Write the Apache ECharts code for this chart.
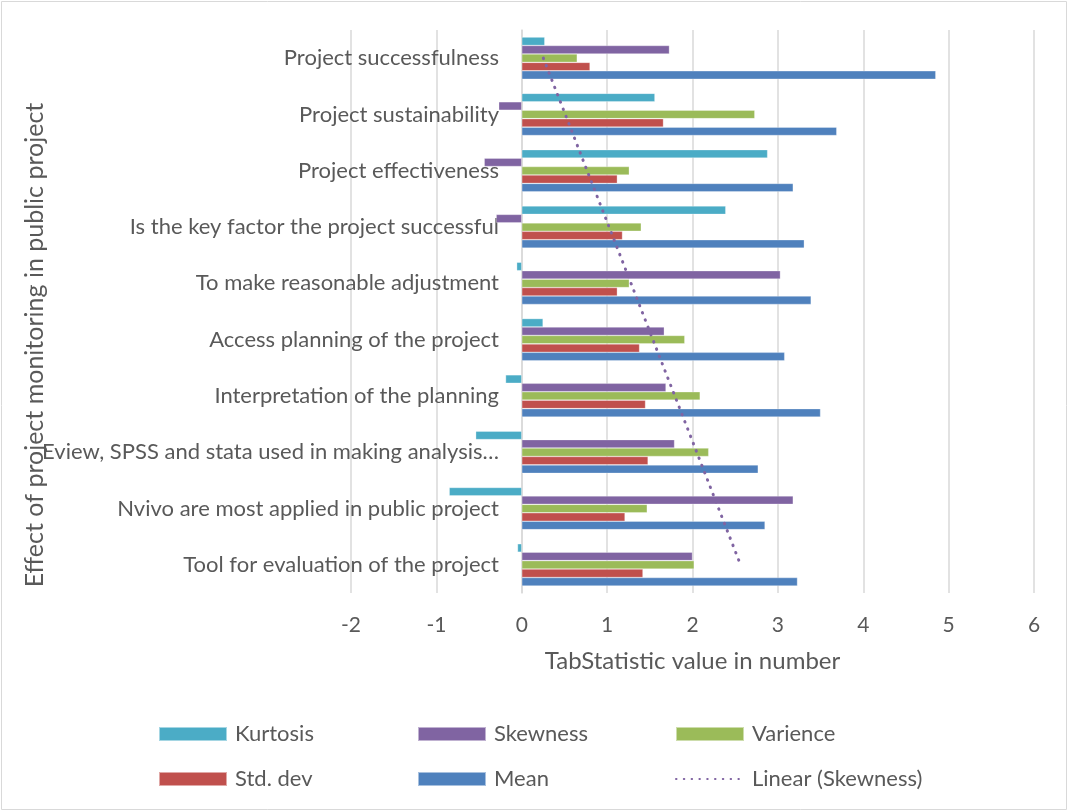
<!DOCTYPE html>
<html>
<head>
<meta charset="utf-8">
<script src="https://cdn.jsdelivr.net/npm/echarts@6/dist/echarts.min.js"></script>
<style>
  html, body { margin: 0; padding: 0; background: #fff; }
  #chart { width: 1069px; height: 812px; }
</style>
</head>
<body>
<div id="chart"></div>
<script>
// categories, top to bottom
const categories = [
  'Project successfulness',
  'Project sustainability',
  'Project effectiveness',
  'Is the key factor the project successful',
  'To make reasonable adjustment',
  'Access planning of the project',
  'Interpretation of the planning',
  'Eview, SPSS and stata used in making analysis…',
  'Nvivo are most applied in public project',
  'Tool for evaluation of the project'
];

const kurtosis = [0.27, 1.56, 2.88, 2.39, -0.06, 0.25, -0.19, -0.54, -0.85, -0.05];
const skewness = [1.73, -0.27, -0.44, -0.30, 3.03, 1.67, 1.69, 1.79, 3.18, 2.00];
const varience = [0.65, 2.73, 1.26, 1.40, 1.26, 1.91, 2.09, 2.19, 1.47, 2.02];
const stdDev   = [0.80, 1.66, 1.12, 1.18, 1.12, 1.38, 1.45, 1.48, 1.21, 1.42];
const mean     = [4.85, 3.69, 3.18, 3.31, 3.39, 3.08, 3.50, 2.77, 2.85, 3.23];

// linear trendline of skewness (least squares over category index)
const n = skewness.length;
const mx = (n - 1) / 2;
const my = skewness.reduce((s, v) => s + v, 0) / n;
let sxy = 0, sxx = 0;
skewness.forEach((v, i) => { sxy += (i - mx) * (v - my); sxx += (i - mx) * (i - mx); });
const slope = sxy / sxx;
const trend = skewness.map((v, i) => +(my + slope * (i - mx)).toFixed(3));

const font = 'Lato';
const textColor = '#595959';

const chart = echarts.init(document.getElementById('chart'));

function barSeries(name, data, color) {
  return {
    name: name,
    type: 'bar',
    data: data,
    barGap: '0%',
    barCategoryGap: '25%',
    itemStyle: { color: color, borderColor: 'rgba(255,255,255,0.5)', borderWidth: 0.6 }
  };
}

const legendBase = {
  orient: 'vertical',
  top: 723,
  padding: 0,
  itemGap: 23,
  itemWidth: 68,
  itemHeight: 14,
  textStyle: { fontFamily: font, fontSize: 22, color: textColor, padding: [0, 0, 0, 3] }
};

chart.setOption({
  animation: false,
  textStyle: { fontFamily: font },
  grid: { left: 351, right: 35, top: 30, bottom: 219, containLabel: false, outerBoundsMode: 'none' },
  legend: [
    Object.assign({}, legendBase, { left: 158, data: [{ name: 'Kurtosis', icon: 'rect' }, { name: 'Std. dev', icon: 'rect' }] }),
    Object.assign({}, legendBase, { left: 417, data: [{ name: 'Skewness', icon: 'rect' }, { name: 'Mean', icon: 'rect' }] }),
    Object.assign({}, legendBase, {
      left: 675,
      data: [
        { name: 'Varience', icon: 'rect' },
        { name: 'Linear (Skewness)', itemStyle: { color: 'rgba(0,0,0,0)', borderWidth: 0 } }
      ]
    })
  ],
  xAxis: {
    type: 'value',
    min: -2,
    max: 6,
    interval: 1,
    name: 'TabStatistic value in number',
    nameLocation: 'middle',
    nameGap: 56,
    nameTextStyle: { fontFamily: font, fontSize: 24, color: textColor },
    axisLine: { show: false },
    axisTick: { show: false },
    axisLabel: { fontFamily: font, fontSize: 21, color: textColor, margin: 22 },
    splitLine: { lineStyle: { color: '#d9d9d9', width: 1.5 } }
  },
  yAxis: {
    type: 'category',
    inverse: true,
    data: categories,
    axisLine: { show: true, onZero: true, lineStyle: { color: '#d9d9d9', width: 1.5 } },
    axisTick: { show: false },
    axisLabel: { fontFamily: font, fontSize: 22, color: textColor, margin: -148, interval: 0 }
  },
  graphic: [
    {
      type: 'rect',
      shape: { x: 1.5, y: 1.5, width: 1065, height: 808 },
      style: { fill: 'none', stroke: '#d9d9d9', lineWidth: 1 },
      silent: true
    },
    {
      type: 'text',
      x: 35,
      y: 345,
      rotation: Math.PI / 2,
      style: {
        text: 'Effect of project monitoring in public project',
        font: '25px Lato',
        fill: textColor,
        align: 'center',
        verticalAlign: 'middle'
      }
    }
  ],
  series: [
    barSeries('Kurtosis', kurtosis, '#4BACC6'),
    barSeries('Skewness', skewness, '#8064A2'),
    barSeries('Varience', varience, '#9BBB59'),
    barSeries('Std. dev', stdDev, '#C0504D'),
    barSeries('Mean', mean, '#4F81BD'),
    {
      name: 'Linear (Skewness)',
      type: 'line',
      data: trend,
      symbol: 'none',
      z: 5,
      lineStyle: { color: '#8064A2', width: 3, type: [0.5, 7.3], cap: 'round' }
    }
  ]
});
</script>
</body>
</html>
